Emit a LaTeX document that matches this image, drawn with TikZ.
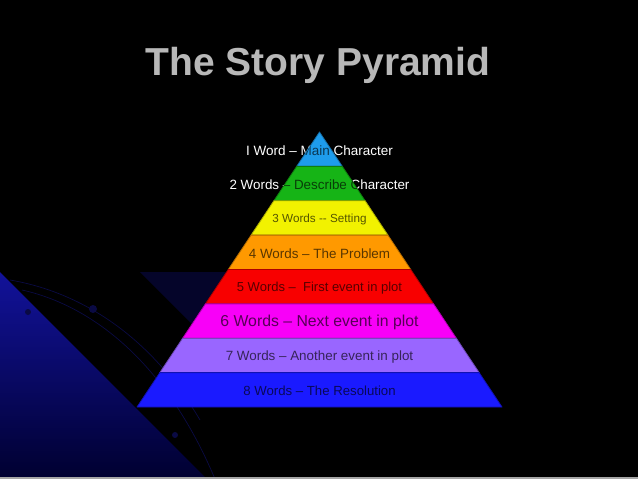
\documentclass[tikz,border=0pt]{standalone}
\usepackage{fontspec}
\setmainfont{Liberation Sans}
\definecolor{spbg}{HTML}{000000}
\definecolor{sptitle}{HTML}{B8B8B8}
\definecolor{spnavy}{HTML}{12129A}
\definecolor{spdeep}{HTML}{000030}
\definecolor{spshade}{HTML}{05052A}
\definecolor{sporbit}{HTML}{0A0A44}
\definecolor{splayA}{HTML}{1E9CEC}
\definecolor{splayB}{HTML}{16B416}
\definecolor{splayC}{HTML}{F2F200}
\definecolor{splayD}{HTML}{FF9900}
\definecolor{splayE}{HTML}{F80000}
\definecolor{splayF}{HTML}{F800F8}
\definecolor{splayG}{HTML}{9966FF}
\definecolor{splayH}{HTML}{1A1AFF}
\tikzset{
  sp title/.style={font=\fontsize{39}{39}\selectfont\bfseries, text=sptitle, inner sep=0pt},
  sp layer/.style={line width=0.8pt, line join=round},
  sp label/.style={text=white, inner sep=0pt, anchor=center},
  sp orbit/.style={draw=sporbit, line width=0.7pt}
}
\begin{document}
\begin{tikzpicture}[x=1pt, y=-1pt]
  \useasboundingbox (0,0) rectangle (638,479);
  \fill[spbg] (0,0) rectangle (638,479);
  % background streaks
  \shade[shading angle=-45, top color=spnavy, bottom color=spdeep] (0,272) -- (207,479) -- (0,479) -- cycle;
  \fill[spshade] (140,272) -- (240,272) -- (240,330) -- (198,330) -- cycle;
  \draw[sp orbit] (10,280) .. controls (80,292) and (150,335) .. (200,420);
  \draw[sp orbit] (22,290) .. controls (90,305) and (165,360) .. (215,479);
  \fill[sporbit] (93,309) circle (4) (28,312) circle (3) (175,435) circle (3);
  \fill[gray!70] (0,477) rectangle (638,479);
  \node[sp title, anchor=base] (title) at (318,75) {The Story Pyramid};
  % pyramid layers
  \foreach \i/\col/\fs/\txt in {
    0/splayA/13.5/{I Word -- Main Character},
    1/splayB/13.4/{2 Words -- Describe Character},
    2/splayC/11.7/{3 Words -{}- Setting},
    3/splayD/13.4/{4 Words -- The Problem},
    4/splayE/13/{5 Words --\ \ First event in plot},
    5/splayF/15.8/{6 Words -- Next event in plot},
    6/splayG/13.4/{7 Words -- Another event in plot},
    7/splayH/13.2/{8 Words -- The Resolution}} {
    \pgfmathsetmacro{\yt}{132+34.375*\i}
    \pgfmathsetmacro{\yb}{\yt+34.375}
    \pgfmathsetmacro{\wt}{0.6636*(\yt-132)}
    \pgfmathsetmacro{\wb}{0.6636*(\yb-132)}
    \node[sp label, font=\fontsize{\fs}{\fs}\selectfont] (L\i) at (319.5,\yt+18.5) {\txt};
    \path[sp layer, fill=\col, draw=\col!70!black] (319.5-\wt,\yt) -- (319.5+\wt,\yt) -- (319.5+\wb,\yb) -- (319.5-\wb,\yb) -- cycle;
    \begin{scope}
      \clip (319.5-\wt,\yt) -- (319.5+\wt,\yt) -- (319.5+\wb,\yb) -- (319.5-\wb,\yb) -- cycle;
      \node[sp label, text=\col!35!black, font=\fontsize{\fs}{\fs}\selectfont] (L\i dark) at (319.5,\yt+18.5) {\txt};
    \end{scope}
  }
\end{tikzpicture}
\end{document}
